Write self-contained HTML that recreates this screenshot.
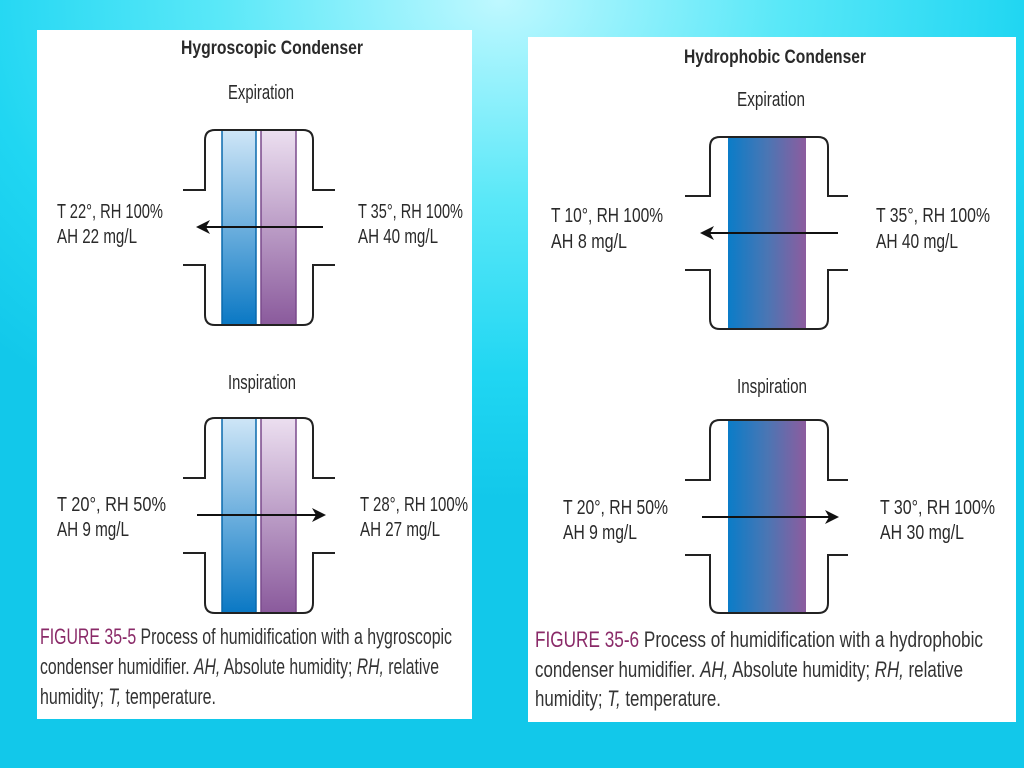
<!DOCTYPE html>
<html><head><meta charset="utf-8"><style>
html,body{margin:0;padding:0;width:1024px;height:768px;overflow:hidden}
body{background:radial-gradient(ellipse 700px 500px at 500px 0px,#bff8ff 0%,#5ae8f8 40%,#20d6f2 75%,#12c8ea 100%)}
svg{position:absolute;left:0;top:0}
text{font-family:"Liberation Sans",sans-serif;fill:#2a2a2a}
.c{font-family:"Liberation Sans",sans-serif;fill:#333}
</style></head><body>
<svg width="1024" height="768" viewBox="0 0 1024 768">
<defs>
<linearGradient id="bl" x1="0" y1="0" x2="0" y2="1"><stop offset="0" stop-color="#cfe6f7"/><stop offset="1" stop-color="#0a78c4"/></linearGradient>
<linearGradient id="pu" x1="0" y1="0" x2="0" y2="1"><stop offset="0" stop-color="#ecdff0"/><stop offset="1" stop-color="#8a5a9c"/></linearGradient>
<linearGradient id="hg" x1="0" y1="0" x2="1" y2="0"><stop offset="0" stop-color="#0a7cc8"/><stop offset="0.5" stop-color="#4a76b4"/><stop offset="1" stop-color="#8d5c9e"/></linearGradient>
<marker id="ah" markerWidth="14" markerHeight="14" refX="12" refY="7" orient="auto" markerUnits="userSpaceOnUse"><path d="M0,0 L14,7 L0,14 L4,7 Z" fill="#111"/></marker>
</defs>
<g lengthAdjust="spacingAndGlyphs">
<rect x="37" y="30" width="435" height="689" fill="#fff"/>
<rect x="528" y="37" width="488" height="685" fill="#fff"/>

<!-- LEFT -->
<text x="272" y="54" text-anchor="middle" font-weight="bold" font-size="19" textLength="182" lengthAdjust="spacingAndGlyphs">Hygroscopic Condenser</text>
<text x="261" y="99" text-anchor="middle" font-size="20" textLength="66" lengthAdjust="spacingAndGlyphs">Expiration</text>
<rect x="222" y="130" width="34" height="195" fill="url(#bl)" stroke="#0a6aad" stroke-width="1.5"/>
<rect x="261" y="130" width="35" height="195" fill="url(#pu)" stroke="#7a4a8c" stroke-width="1.5"/>
<path d="M183,190 H205 V140 Q205,130 215,130 H303 Q313,130 313,140 V190 H335" fill="none" stroke="#222" stroke-width="2"/>
<path d="M183,265 H205 V315 Q205,325 215,325 H303 Q313,325 313,315 V265 H335" fill="none" stroke="#222" stroke-width="2"/>
<line x1="323" y1="227" x2="198" y2="227" stroke="#111" stroke-width="2" marker-end="url(#ah)"/>
<text x="57" y="218" font-size="20" textLength="106" lengthAdjust="spacingAndGlyphs">T 22°, RH 100%</text>
<text x="57" y="243" font-size="20" textLength="80" lengthAdjust="spacingAndGlyphs">AH 22 mg/L</text>
<text x="358" y="218" font-size="20" textLength="105" lengthAdjust="spacingAndGlyphs">T 35°, RH 100%</text>
<text x="358" y="243" font-size="20" textLength="80" lengthAdjust="spacingAndGlyphs">AH 40 mg/L</text>

<text x="262" y="389" text-anchor="middle" font-size="20" textLength="68" lengthAdjust="spacingAndGlyphs">Inspiration</text>
<rect x="222" y="418" width="34" height="195" fill="url(#bl)" stroke="#0a6aad" stroke-width="1.5"/>
<rect x="261" y="418" width="35" height="195" fill="url(#pu)" stroke="#7a4a8c" stroke-width="1.5"/>
<path d="M183,478 H205 V428 Q205,418 215,418 H303 Q313,418 313,428 V478 H335" fill="none" stroke="#222" stroke-width="2"/>
<path d="M183,553 H205 V603 Q205,613 215,613 H303 Q313,613 313,603 V553 H335" fill="none" stroke="#222" stroke-width="2"/>
<line x1="197" y1="515" x2="324" y2="515" stroke="#111" stroke-width="2" marker-end="url(#ah)"/>
<text x="57" y="511" font-size="20" textLength="109" lengthAdjust="spacingAndGlyphs">T 20°, RH 50%</text>
<text x="57" y="536" font-size="20" textLength="72" lengthAdjust="spacingAndGlyphs">AH 9 mg/L</text>
<text x="360" y="511" font-size="20" textLength="108" lengthAdjust="spacingAndGlyphs">T 28°, RH 100%</text>
<text x="360" y="536" font-size="20" textLength="80" lengthAdjust="spacingAndGlyphs">AH 27 mg/L</text>

<text x="40" y="644" font-size="22" class="c" textLength="412" lengthAdjust="spacingAndGlyphs"><tspan fill="#8a2a68">FIGURE 35-5</tspan> Process of humidification with a hygroscopic</text>
<text x="40" y="674" font-size="22" class="c" textLength="399" lengthAdjust="spacingAndGlyphs">condenser humidifier. <tspan font-style="italic">AH,</tspan> Absolute humidity; <tspan font-style="italic">RH,</tspan> relative</text>
<text x="40" y="704" font-size="22" class="c" textLength="176" lengthAdjust="spacingAndGlyphs">humidity; <tspan font-style="italic">T,</tspan> temperature.</text>

<!-- RIGHT -->
<text x="775" y="63" text-anchor="middle" font-weight="bold" font-size="19" textLength="182" lengthAdjust="spacingAndGlyphs">Hydrophobic Condenser</text>
<text x="771" y="106" text-anchor="middle" font-size="20" textLength="68" lengthAdjust="spacingAndGlyphs">Expiration</text>
<rect x="728" y="137" width="78" height="192" fill="url(#hg)"/>
<path d="M685,196 H710 V147 Q710,137 720,137 H818 Q828,137 828,147 V196 H848" fill="none" stroke="#222" stroke-width="2"/>
<path d="M685,270 H710 V319 Q710,329 720,329 H818 Q828,329 828,319 V270 H848" fill="none" stroke="#222" stroke-width="2"/>
<line x1="838" y1="233" x2="702" y2="233" stroke="#111" stroke-width="2" marker-end="url(#ah)"/>
<text x="551" y="222" font-size="20" textLength="112" lengthAdjust="spacingAndGlyphs">T 10°, RH 100%</text>
<text x="551" y="248" font-size="20" textLength="76" lengthAdjust="spacingAndGlyphs">AH 8 mg/L</text>
<text x="876" y="222" font-size="20" textLength="114" lengthAdjust="spacingAndGlyphs">T 35°, RH 100%</text>
<text x="876" y="248" font-size="20" textLength="82" lengthAdjust="spacingAndGlyphs">AH 40 mg/L</text>

<text x="772" y="393" text-anchor="middle" font-size="20" textLength="70" lengthAdjust="spacingAndGlyphs">Inspiration</text>
<rect x="728" y="420" width="78" height="193" fill="url(#hg)"/>
<path d="M685,480 H710 V430 Q710,420 720,420 H818 Q828,420 828,430 V480 H848" fill="none" stroke="#222" stroke-width="2"/>
<path d="M685,555 H710 V603 Q710,613 720,613 H818 Q828,613 828,603 V555 H848" fill="none" stroke="#222" stroke-width="2"/>
<line x1="702" y1="517" x2="837" y2="517" stroke="#111" stroke-width="2" marker-end="url(#ah)"/>
<text x="563" y="514" font-size="20" textLength="105" lengthAdjust="spacingAndGlyphs">T 20°, RH 50%</text>
<text x="563" y="539" font-size="20" textLength="74" lengthAdjust="spacingAndGlyphs">AH 9 mg/L</text>
<text x="880" y="514" font-size="20" textLength="115" lengthAdjust="spacingAndGlyphs">T 30°, RH 100%</text>
<text x="880" y="539" font-size="20" textLength="84" lengthAdjust="spacingAndGlyphs">AH 30 mg/L</text>

<text x="535" y="647" font-size="22" class="c" textLength="448" lengthAdjust="spacingAndGlyphs"><tspan fill="#8a2a68">FIGURE 35-6</tspan> Process of humidification with a hydrophobic</text>
<text x="535" y="677" font-size="22" class="c" textLength="428" lengthAdjust="spacingAndGlyphs">condenser humidifier. <tspan font-style="italic">AH,</tspan> Absolute humidity; <tspan font-style="italic">RH,</tspan> relative</text>
<text x="535" y="706" font-size="22" class="c" textLength="186" lengthAdjust="spacingAndGlyphs">humidity; <tspan font-style="italic">T,</tspan> temperature.</text>
</g>
</svg>
</body></html>
